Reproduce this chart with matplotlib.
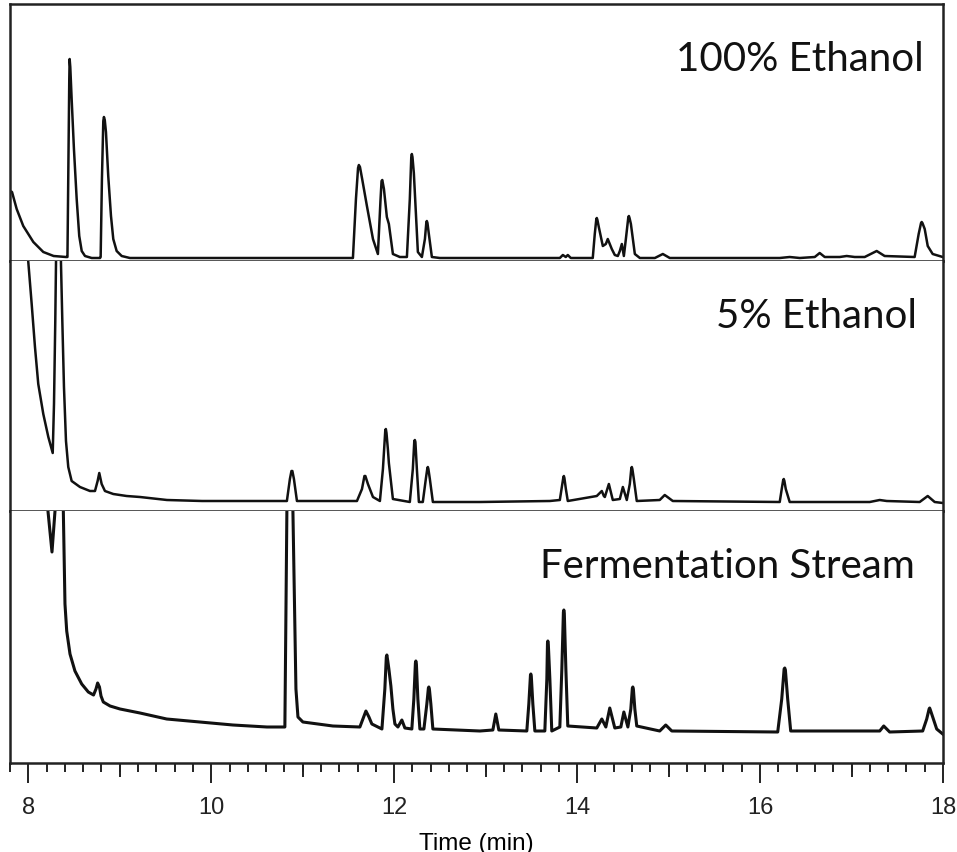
import matplotlib
matplotlib.use("Agg")
import matplotlib.pyplot as plt
from matplotlib.ticker import MultipleLocator, FixedLocator

# ---------------- data: (time in min, detector response in arbitrary units) ----------------
trace_100 = [
    (7.80, 70), (7.822, 69), (7.873, 52), (7.945, 35), (8.055, 19), (8.164, 9), (8.277, 5),
    (8.412, 4), (8.428, 4), (8.439, 102), (8.448, 182), (8.452, 202), (8.459, 194), (8.474, 162),
    (8.499, 112), (8.529, 62), (8.557, 25), (8.584, 10), (8.620, 5), (8.693, 3), (8.784, 3),
    (8.791, 4), (8.805, 82), (8.820, 140), (8.827, 144), (8.836, 141), (8.849, 129), (8.874, 85),
    (8.904, 45), (8.929, 22), (8.966, 10), (9.021, 5), (9.111, 3), (9.876, 3),
    (11.549, 3), (11.582, 62), (11.605, 93), (11.614, 96), (11.626, 94), (11.650, 82), (11.702, 55),
    (11.768, 22), (11.822, 7), (11.850, 60), (11.862, 80), (11.870, 81), (11.888, 72), (11.920, 44),
    (11.942, 37), (11.986, 7), (12.062, 4), (12.139, 4), (12.171, 62), (12.187, 104), (12.193, 107),
    (12.200, 104), (12.215, 88), (12.259, 9), (12.303, 4), (12.336, 22), (12.352, 39), (12.357, 40),
    (12.364, 38), (12.379, 27), (12.412, 4), (12.499, 3),
    (13.811, 3), (13.844, 6), (13.876, 4), (13.898, 6), (13.931, 3), (14.171, 3), (14.193, 27),
    (14.210, 42), (14.215, 43), (14.222, 41), (14.237, 34), (14.281, 15), (14.314, 17), (14.335, 22),
    (14.357, 17), (14.379, 12), (14.412, 6), (14.445, 5), (14.467, 10), (14.489, 17), (14.511, 5),
    (14.533, 22), (14.560, 44), (14.566, 45), (14.573, 43), (14.588, 37), (14.631, 7), (14.686, 3),
    (14.850, 3), (14.937, 7), (15.013, 3), (16.215, 3), (16.324, 4), (16.434, 3), (16.598, 4),
    (16.652, 8), (16.707, 4), (16.871, 4), (16.947, 5), (17.035, 4), (17.144, 4), (17.275, 10),
    (17.362, 5), (17.690, 4), (17.734, 27), (17.760, 38), (17.767, 39), (17.775, 38), (17.800, 32),
    (17.833, 15), (17.887, 7), (17.997, 4),
]

trace_5 = [
    (7.80, 600), (7.995, 255), (8.000, 249), (8.037, 207), (8.073, 164), (8.109, 127), (8.164, 97),
    (8.219, 74), (8.267, 58), (8.281, 107), (8.295, 190), (8.303, 249), (8.310, 600), (8.350, 600),
    (8.357, 249), (8.372, 190), (8.390, 124), (8.412, 70), (8.437, 44), (8.474, 30), (8.565, 24),
    (8.674, 20), (8.729, 20), (8.758, 30), (8.776, 38), (8.802, 27), (8.838, 20), (8.929, 17),
    (9.075, 15), (9.221, 14), (9.516, 11), (9.900, 10), (10.500, 10),
    (10.827, 10), (10.860, 32), (10.877, 40), (10.887, 40), (10.904, 32), (10.937, 10),
    (11.593, 10), (11.648, 22), (11.675, 35), (11.685, 35), (11.713, 27), (11.768, 14), (11.844, 10),
    (11.877, 42), (11.903, 81), (11.909, 82), (11.916, 78), (11.931, 62), (11.942, 48), (11.986, 12),
    (12.171, 9), (12.204, 42), (12.220, 70), (12.226, 71), (12.232, 69), (12.248, 42), (12.270, 9),
    (12.313, 9), (12.346, 32), (12.363, 43), (12.368, 44), (12.374, 42), (12.390, 32), (12.423, 9),
    (12.937, 9), (13.702, 10), (13.811, 11), (13.833, 24), (13.850, 34), (13.855, 35), (13.861, 33),
    (13.877, 22), (13.898, 10), (14.215, 15), (14.248, 18), (14.270, 20), (14.292, 15), (14.303, 14),
    (14.347, 27), (14.390, 11), (14.467, 12), (14.500, 24), (14.543, 11), (14.576, 27), (14.593, 43),
    (14.598, 44), (14.604, 42), (14.620, 32), (14.652, 10), (14.903, 11), (14.958, 16), (15.046, 10),
    (16.215, 9), (16.237, 22), (16.253, 31), (16.259, 32), (16.266, 30), (16.281, 22), (16.324, 9),
    (17.199, 9), (17.308, 11), (17.385, 10), (17.745, 9), (17.833, 15), (17.909, 9), (17.997, 8),
]

trace_ferm = [
    (7.80, 600), (8.199, 600), (8.215, 252), (8.259, 211), (8.292, 252), (8.297, 600), (8.374, 600),
    (8.383, 252), (8.392, 204), (8.401, 159), (8.420, 132), (8.456, 109), (8.510, 92), (8.584, 79),
    (8.656, 71), (8.713, 68), (8.740, 74), (8.758, 80), (8.778, 76), (8.795, 67), (8.820, 61),
    (8.894, 57), (9.003, 54), (9.221, 50), (9.513, 44), (9.876, 41), (10.237, 38), (10.609, 36),
    (10.805, 36), (10.827, 252), (10.833, 600), (10.887, 600), (10.893, 252), (10.926, 74),
    (10.948, 46), (11.002, 41), (11.330, 37), (11.625, 36), (11.658, 44), (11.691, 52), (11.724, 46),
    (11.756, 39), (11.866, 34), (11.898, 74), (11.914, 106), (11.920, 108), (11.930, 102),
    (11.942, 94), (11.964, 77), (11.986, 54), (12.008, 39), (12.041, 36), (12.084, 43), (12.117, 35),
    (12.193, 34), (12.215, 64), (12.232, 100), (12.237, 102), (12.243, 99), (12.259, 64), (12.281, 34),
    (12.325, 34), (12.357, 59), (12.374, 75), (12.379, 76), (12.385, 74), (12.401, 59), (12.423, 34),
    (12.937, 32), (13.079, 33), (13.111, 49), (13.144, 33), (13.450, 32), (13.472, 59), (13.490, 88),
    (13.494, 89), (13.499, 87), (13.516, 59), (13.538, 32), (13.647, 32), (13.669, 84), (13.676, 120),
    (13.680, 122), (13.685, 119), (13.702, 84), (13.723, 32), (13.811, 36), (13.833, 94),
    (13.850, 151), (13.855, 153), (13.860, 150), (13.877, 94), (13.898, 37), (14.215, 35),
    (14.270, 44), (14.314, 36), (14.357, 55), (14.412, 35), (14.478, 36), (14.511, 51), (14.555, 36),
    (14.587, 54), (14.604, 75), (14.609, 76), (14.615, 74), (14.631, 54), (14.652, 37), (14.903, 32),
    (14.969, 38), (15.035, 32), (16.193, 31), (16.237, 64), (16.263, 94), (16.270, 95), (16.277, 93),
    (16.302, 64), (16.335, 32), (17.308, 32), (17.352, 37), (17.417, 31), (17.778, 32), (17.822, 44),
    (17.848, 54), (17.854, 55), (17.862, 53), (17.887, 46), (17.931, 34), (17.997, 29),
]

labels = ["100% Ethanol", "5% Ethanol", "Fermentation Stream"]
x_major = [8, 10, 12, 14, 16, 18]
x_mid = [9, 11, 13, 15, 17]

# ---------------- figure ----------------
W, H = 957, 853
fig = plt.figure(figsize=(W / 100, H / 100), dpi=100)

def frac_y(py):
    return 1 - py / H

left = 10 / W
width = (943 - 10) / W
panels_px = [(5, 262), (262, 512), (512, 764)]
series = [trace_100, trace_5, trace_ferm]
label_pos = [(0.979, 0.786), (0.972, 0.78), (0.970, 0.782)]
lws = [1.8, 1.8, 2.2]

axes = []
for k, ((top, bot), tr) in enumerate(zip(panels_px, series)):
    t = [p[0] for p in tr]
    i = [p[1] for p in tr]
    ax = fig.add_axes([left, frac_y(bot), width, (bot - top) / H])
    ax.plot(t, i, color="#111111", lw=lws[k], solid_joinstyle="round")
    ax.set_xlim(7.8, 18.0)
    ax.set_ylim(0, bot - top)
    ax.set_yticks([])
    for s in ax.spines.values():
        s.set_linewidth(1.8)
        s.set_color("#222222")
    if k > 0:
        ax.spines["top"].set_visible(False)
    ax.text(label_pos[k][0], label_pos[k][1], labels[k], transform=ax.transAxes,
            ha="right", va="center", fontsize=29, family="Lato", color="#111111")
    if k < 2:
        ax.set_xticks([])
    axes.append(ax)

ax = axes[-1]
ax.xaxis.set_major_locator(FixedLocator(x_major))
ax.xaxis.set_minor_locator(MultipleLocator(0.2))
ax.tick_params(axis="x", which="major", direction="out", length=14.5, width=1.4,
               labelsize=17, pad=9, colors="#222222")
ax.tick_params(axis="x", which="minor", direction="out", length=6.5, width=1.4, colors="#222222")
for lab in ax.get_xticklabels():
    lab.set_family("Liberation Sans")
ax.set_xlabel("Time (min)", fontsize=17.5, family="Liberation Sans", labelpad=10)

sec = ax.secondary_xaxis("bottom")
sec.set_xticks(x_mid)
sec.tick_params(axis="x", direction="out", length=10, width=1.4, labelbottom=False, colors="#222222")
sec.spines["bottom"].set_visible(False)

fig.savefig("out.png", dpi=100)
